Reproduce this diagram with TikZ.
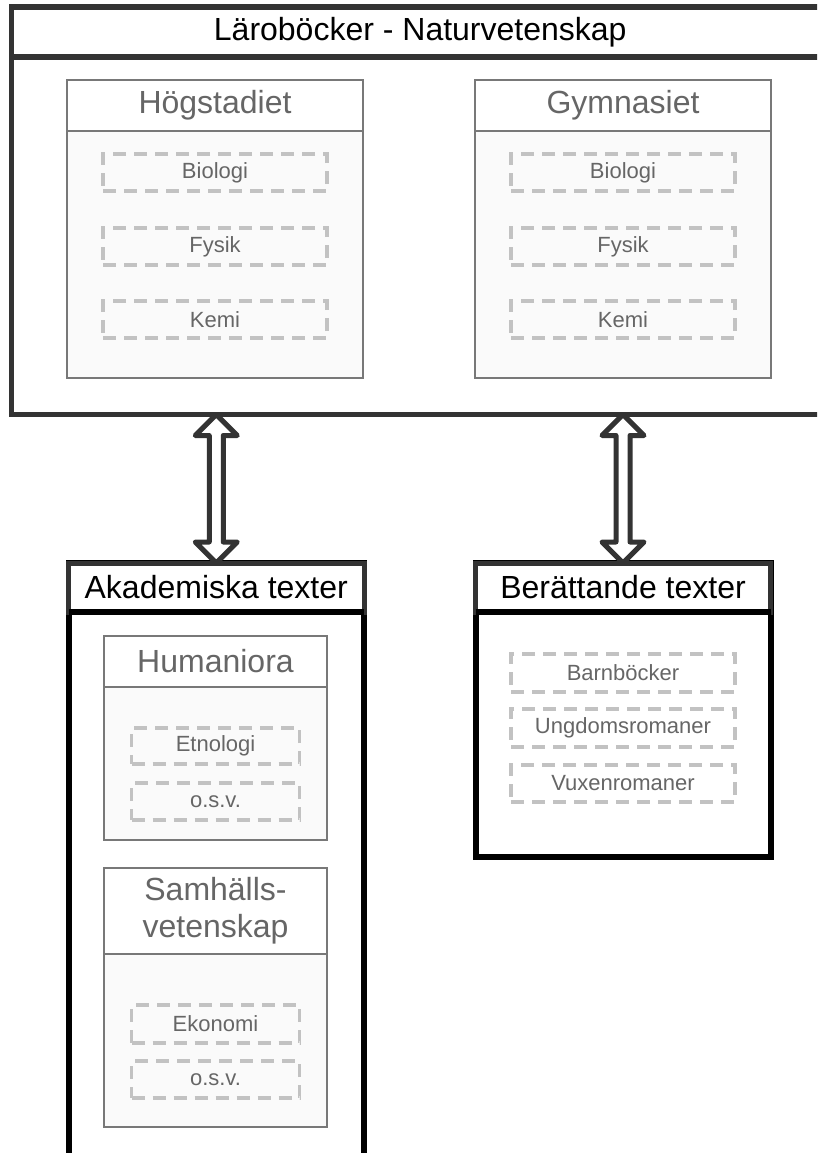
\documentclass[tikz,border=0pt]{standalone}
\usepackage{fontspec}
\setmainfont{Liberation Sans}
\usetikzlibrary{calc}
\definecolor{frame}{HTML}{333333}
\definecolor{boxline}{HTML}{787878}
\definecolor{dashline}{HTML}{C2C2C2}
\definecolor{graytext}{HTML}{666666}
\definecolor{leaftext}{HTML}{666666}
\definecolor{panel}{HTML}{FAFAFA}

\begin{document}
\begin{tikzpicture}[x=1pt,y=-1pt,
  every node/.style={inner sep=0pt, outer sep=0pt},
  framebody/.style={draw=frame, line width=5.5pt, fill=white, anchor=north west},
  groupbody/.style={draw=black, line width=6pt, fill=white, anchor=north west},
  grouphead/.style={draw=frame, line width=5pt, fill=white, anchor=north west},
  subbody/.style={draw=boxline, line width=2pt, fill=panel, anchor=north west},
  subhead/.style={draw=boxline, line width=2pt, fill=white, anchor=north west},
  leaf/.style={draw=dashline, line width=3.3pt, dash pattern=on 13pt off 8pt,
    text=leaftext, font=\fontsize{22}{26}\selectfont},
  bigtitle/.style={text=black, font=\fontsize{32}{38}\selectfont},
  subtitle/.style={text=graytext, font=\fontsize{32}{37}\selectfont, align=center},
  hollow/.style={draw=frame, line width=5pt, fill=white, line join=round},
]
\path[use as bounding box] (0,0) rectangle (817,1153);
\clip (0,0) rectangle (817,1153);

% ---------- Läroböcker - Naturvetenskap ----------
\node[framebody, minimum width=817.5pt, minimum height=407.5pt] (nat) at (11.5,7) {};
\draw[draw=frame, line width=5.5pt] ($(nat.north west)+(0,50)$) -- ($(nat.north east)+(0,50)$);
\node[bigtitle] (natT) at ($(nat.north)+(0,25)$) {Läroböcker - Naturvetenskap};

% Högstadiet
\node[subbody, minimum width=296pt, minimum height=298pt] (hog) at (67,80) {};
\node[subhead, minimum width=296pt, minimum height=51pt] (hogH) at (67,80) {};
\node[subtitle] (hogT) at (hogH.center) {Högstadiet};
\node[leaf, minimum width=224pt, minimum height=37pt] (hogBio) at (215,172.5) {Biologi};
\node[leaf, minimum width=224pt, minimum height=37pt] (hogFys) at (215,246.5) {Fysik};
\node[leaf, minimum width=224pt, minimum height=37pt] (hogKem) at (215,319.5) {Kemi};

% Gymnasiet
\node[subbody, minimum width=296pt, minimum height=298pt] (gym) at (475,80) {};
\node[subhead, minimum width=296pt, minimum height=51pt] (gymH) at (475,80) {};
\node[subtitle] (gymT) at (gymH.center) {Gymnasiet};
\node[leaf, minimum width=224pt, minimum height=37pt] (gymBio) at (623,172.5) {Biologi};
\node[leaf, minimum width=224pt, minimum height=37pt] (gymFys) at (623,246.5) {Fysik};
\node[leaf, minimum width=224pt, minimum height=37pt] (gymKem) at (623,319.5) {Kemi};

% ---------- Akademiska texter ----------
\node[groupbody, minimum width=295.5pt, minimum height=610pt] (aka) at (68.5,563) {};
\node[grouphead, minimum width=295.5pt, minimum height=49pt] (akaH) at (68.5,563) {};
\draw[black, line width=6pt] (akaH.south west) -- (akaH.south east);
\node[bigtitle] (akaT) at (akaH.center) {Akademiska texter};

% Humaniora
\node[subbody, minimum width=223pt, minimum height=204pt] (hum) at (104,636) {};
\node[subhead, minimum width=223pt, minimum height=51pt] (humH) at (104,636) {};
\node[subtitle] (humT) at (humH.center) {Humaniora};
\node[leaf, minimum width=168pt, minimum height=36pt] (humEtn) at (215.5,746) {Etnologi};
\node[leaf, minimum width=168pt, minimum height=37pt] (humOsv) at (215.5,801.5) {o.s.v.};

% Samhällsvetenskap
\node[subbody, minimum width=223pt, minimum height=259pt] (sam) at (104,868) {};
\node[subhead, minimum width=223pt, minimum height=86pt] (samH) at (104,868) {};
\node[subtitle] (samT) at (samH.center) {Samhälls-\\vetenskap};
\node[leaf, minimum width=168pt, minimum height=38pt] (samEko) at (215.5,1024) {Ekonomi};
\node[leaf, minimum width=168pt, minimum height=37pt] (samOsv) at (215.5,1079.5) {o.s.v.};

% ---------- Berättande texter ----------
\node[groupbody, minimum width=295pt, minimum height=294pt] (ber) at (475.5,563) {};
\node[grouphead, minimum width=295pt, minimum height=49pt] (berH) at (475.5,563) {};
\draw[black, line width=6pt] (berH.south west) -- (berH.south east);
\node[bigtitle] (berT) at (berH.center) {Berättande texter};
\node[leaf, minimum width=224pt, minimum height=38pt] (berBarn) at (623,673) {Barnböcker};
\node[leaf, minimum width=224pt, minimum height=38pt] (berUng) at (623,728) {Ungdomsromaner};
\node[leaf, minimum width=224pt, minimum height=37pt] (berVux) at (623,783.5) {Vuxenromaner};

% ---------- two-way hollow arrows ----------
\foreach \lower in {aka, ber} {
  \coordinate (T) at (\lower.north |- nat.south);
  \coordinate (B) at (\lower.north);
  \draw[hollow] (T) -- ($(T)+(21,21)$) -- ($(T)+(7,21)$) -- ($(B)+(7,-21)$)
    -- ($(B)+(21,-21)$) -- (B) -- ($(B)+(-21,-21)$) -- ($(B)+(-7,-21)$)
    -- ($(T)+(-7,21)$) -- ($(T)+(-21,21)$) -- cycle;
}
\end{tikzpicture}
\end{document}
